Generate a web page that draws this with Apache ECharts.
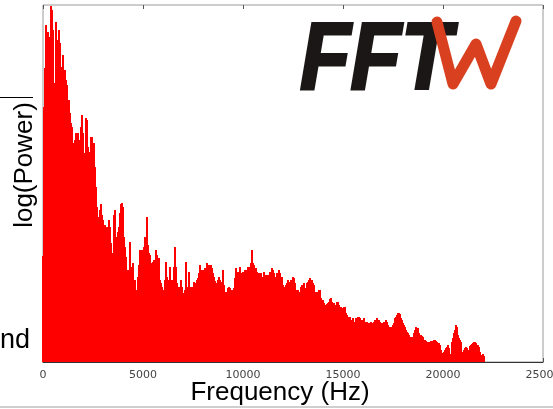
<!DOCTYPE html>
<html>
<head>
<meta charset="utf-8">
<script src="https://cdn.jsdelivr.net/npm/echarts@6/dist/echarts.min.js"></script>
<style>
html,body{margin:0;padding:0;background:#fff;}
#chart{width:553px;height:409px;}
</style>
</head>
<body>
<div id="chart"></div>
<script>
// Frequency bin width (Hz) of the spectrum
const binHz = 50;
// x-axis ticks (Hz)
const xTicks = [0, 5000, 10000, 15000, 20000, 25000];
// log(Power), arbitrary units, one value per 50 Hz bin from 0 Hz to 22050 Hz
const power = [
106,255,294,337,312,330,305,325,356,352,332,279,229,340,322,265,332,319,295,277,
307,277,292,282,277,252,262,249,239,235,219,202,222,229,215,229,222,219,235,247,
229,209,202,244,242,215,205,210,225,225,215,219,195,175,155,145,142,152,158,147,
142,135,137,125,135,135,142,135,119,109,104,147,152,122,125,130,135,149,158,159,
155,125,115,105,92,92,92,120,95,92,99,82,82,72,70,85,97,112,95,112,
99,115,125,117,145,117,109,107,99,82,100,102,97,112,107,102,104,82,79,75,
65,72,82,100,85,82,72,95,82,75,82,95,115,95,79,75,65,75,82,75,
69,62,72,100,74,75,90,72,75,70,75,80,79,75,82,84,89,97,92,89,
92,87,94,92,99,89,97,93,97,94,89,85,81,77,79,82,85,82,80,77,
92,77,70,67,70,74,75,74,72,72,70,74,84,94,90,85,90,95,89,89,
90,89,92,92,90,95,92,95,99,112,99,97,92,94,90,87,89,87,89,85,
84,90,87,87,87,87,85,90,86,94,92,89,79,85,89,87,92,89,84,85,
77,74,75,77,79,82,79,80,82,79,85,84,79,72,70,72,70,70,75,77,
75,79,72,74,79,80,82,84,80,82,79,77,70,70,70,70,72,72,64,62,
62,59,57,57,58,59,60,63,64,60,57,59,57,55,60,60,57,54,55,52,
54,55,55,49,47,44,45,45,42,40,44,40,40,44,42,45,45,44,41,42,
40,44,40,39,40,39,37,39,40,39,39,40,42,42,44,42,42,40,39,39,
39,40,40,42,40,37,35,35,34,35,37,39,44,45,47,49,49,48,44,42,
39,37,35,32,30,29,27,22,25,24,25,29,32,35,32,34,29,27,27,26,
25,22,22,21,20,19,20,20,21,20,21,22,22,21,20,19,19,17,12,5,
9,10,12,14,15,17,14,7,8,20,24,29,32,37,35,27,24,22,20,4,
10,12,14,15,14,12,10,16,17,18,19,20,20,19,17,17,15,10,4,7,
8,6
];

const data = power.map((v, i) => [i * binHz, v]);

const chart = echarts.init(document.getElementById('chart'), null, {renderer: 'canvas'});
const option = {
  animation: false,
  backgroundColor: '#ffffff',
  grid: {left: 43, right: 10, top: 5, bottom: 47, containLabel: false, outerBoundsMode: 'none',
    show: true, borderColor: '#9a9a9a', borderWidth: 1, backgroundColor: 'transparent'},
  xAxis: [{
    type: 'value', min: xTicks[0], max: xTicks[xTicks.length - 1], interval: 5000,
    axisLine: {show: true, lineStyle: {color: '#333', width: 1}},
    axisTick: {show: true, inside: true, length: 4, lineStyle: {color: '#555'}},
    axisLabel: {show: true, color: '#444', fontSize: 11, fontFamily: 'DejaVu Sans', margin: 8,
      hideOverlap: false, formatter: v => String(v)},
    splitLine: {show: false}
  }, {
    type: 'value', position: 'top', min: xTicks[0], max: xTicks[xTicks.length - 1], interval: 5000,
    axisLine: {show: false},
    axisTick: {show: true, inside: true, length: 4, lineStyle: {color: '#555'}},
    axisLabel: {show: false}, splitLine: {show: false}
  }],
  yAxis: {
    type: 'value', min: 0, max: 357,
    axisLine: {show: false}, axisTick: {show: false}, axisLabel: {show: false}, splitLine: {show: false}
  },
  series: [{
    type: 'bar',
    xAxisIndex: 0,
    data: data,
    barWidth: 2,
    itemStyle: {color: '#ff0000'},
    emphasis: {disabled: true},
    z: 1
  }],
  graphic: [
    {type: 'text', x: 280, y: 393, style: {text: 'Frequency (Hz)', fill: '#000', font: '26px "Liberation Sans"', textAlign: 'center', textVerticalAlign: 'middle'}},
    {type: 'text', x: 25, y: 165, rotation: Math.PI / 2, style: {text: 'log(Power)', fill: '#000', font: '26px "Liberation Sans"', textAlign: 'center', textVerticalAlign: 'middle'}},
    {type: 'text', x: 30, y: 341, style: {text: 'nd', fill: '#000', font: '27px "Liberation Sans"', textAlign: 'right', textVerticalAlign: 'middle'}},
    {type: 'line', shape: {x1: 0, y1: 97.5, x2: 33, y2: 97.5}, style: {stroke: '#000', lineWidth: 1}},
    {type: 'rect', shape: {x: 0, y: 406, width: 553, height: 2}, style: {fill: '#cfcfcf'}},
    {type: 'text', x: 300, y: 110, scaleX: 0.88, style: {text: 'FFT', fill: '#1b1716', font: 'italic bold 94px "Liberation Sans"', textAlign: 'left', textVerticalAlign: 'bottom', stroke: '#1b1716', lineWidth: 3}},
    {type: 'polyline', shape: {points: [[437, 22], [453, 84], [476, 44], [491, 84], [516, 21]]}, style: {stroke: '#d9401f', lineWidth: 11, lineCap: 'round', lineJoin: 'round', fill: null}}
  ]
};
chart.setOption(option);
</script>
</body>
</html>
